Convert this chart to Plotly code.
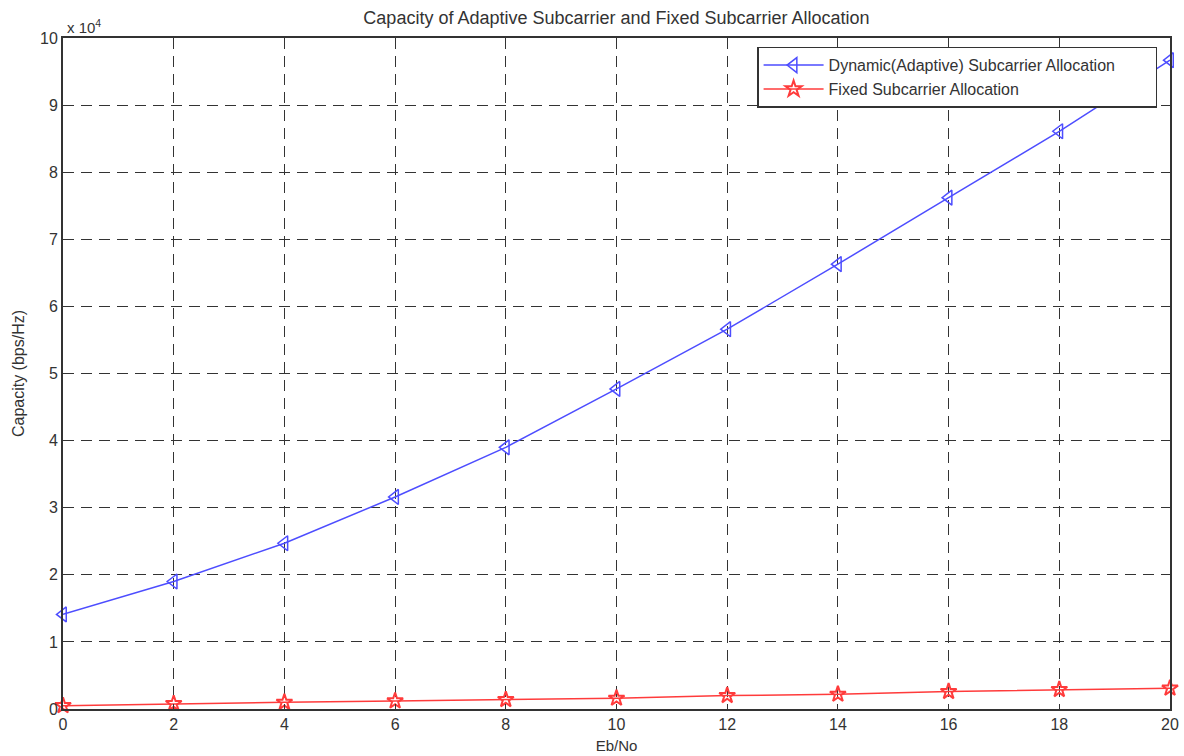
import plotly.graph_objects as go

eb_no = [0, 2, 4, 6, 8, 10, 12, 14, 16, 18, 20]
adaptive = [14100, 19000, 24700, 31600, 39000, 47700, 56600, 66300, 76200, 86100, 96700]
fixed = [500, 800, 1000, 1200, 1400, 1600, 2000, 2200, 2600, 2900, 3100]
x_ticks = [0, 2, 4, 6, 8, 10, 12, 14, 16, 18, 20]
y_tickvals = [0, 10000, 20000, 30000, 40000, 50000, 60000, 70000, 80000, 90000, 100000]
y_ticktext = ["0", "1", "2", "3", "4", "5", "6", "7", "8", "9", "10"]

font = "Liberation Sans, Arial, sans-serif"
pad = "\u00a0" * 8

fig = go.Figure()
fig.add_trace(go.Scatter(
    x=eb_no, y=adaptive, mode="lines+markers",
    name="Dynamic(Adaptive) Subcarrier Allocation" + pad,
    line=dict(color="#4d4dff", width=1.5),
    marker=dict(symbol="triangle-left-open", size=13, color="#4d4dff", line=dict(width=1.5)),
    cliponaxis=False,
))
fig.add_trace(go.Scatter(
    x=eb_no, y=fixed, mode="lines+markers",
    name="Fixed Subcarrier Allocation",
    line=dict(color="#ff3b3b", width=1.5),
    marker=dict(symbol="star-open", size=12, color="#ff3b3b", line=dict(width=2)),
    cliponaxis=False,
))

axis_common = dict(
    showline=True, linecolor="#333333", linewidth=2, mirror="ticks",
    ticks="inside", ticklen=5, tickcolor="#333333",
    showgrid=True, gridcolor="#333333", gridwidth=1.3, griddash="11px,7px",
    zeroline=False, automargin=False,
    tickfont=dict(family=font, size=16, color="#333333"),
)

fig.update_xaxes(range=[0, 20], tickvals=x_ticks,
                 title=dict(text="Eb/No", font=dict(family=font, size=15, color="#333333"), standoff=8),
                 **axis_common)
fig.update_yaxes(range=[0, 100000], tickvals=y_tickvals, ticktext=y_ticktext,
                 title=dict(text="Capacity (bps/Hz)", font=dict(family=font, size=16, color="#333333"), standoff=11),
                 **axis_common)

W, H = 1184, 756
L, R, T, B = 63, 14, 38, 47
fig.update_layout(
    width=W, height=H,
    margin=dict(l=L, r=R, t=T, b=B),
    plot_bgcolor="white", paper_bgcolor="white",
    title=dict(text="Capacity of Adaptive Subcarrier and Fixed Subcarrier Allocation",
               x=(L + 0.5 * (W - L - R)) / W, xanchor="center", y=1 - 18 / H, yanchor="middle",
               font=dict(family=font, size=18, color="#333333")),
    legend=dict(x=0.627, y=0.987, xanchor="left", yanchor="top",
                bgcolor="white", bordercolor="#333333", borderwidth=1.5,
                font=dict(family=font, size=16, color="#333333"),
                itemwidth=60, tracegroupgap=0),
    showlegend=True,
    annotations=[dict(text="x 10<sup>4</sup>", x=0, y=1, xref="paper", yref="paper",
                      xanchor="left", yanchor="bottom", showarrow=False, xshift=2, yshift=0,
                      font=dict(family=font, size=15, color="#333333"))],
)

fig.write_html("out.html", config={"displayModeBar": False},
               post_script="document.body.style.margin='0';document.body.style.overflow='hidden';")
